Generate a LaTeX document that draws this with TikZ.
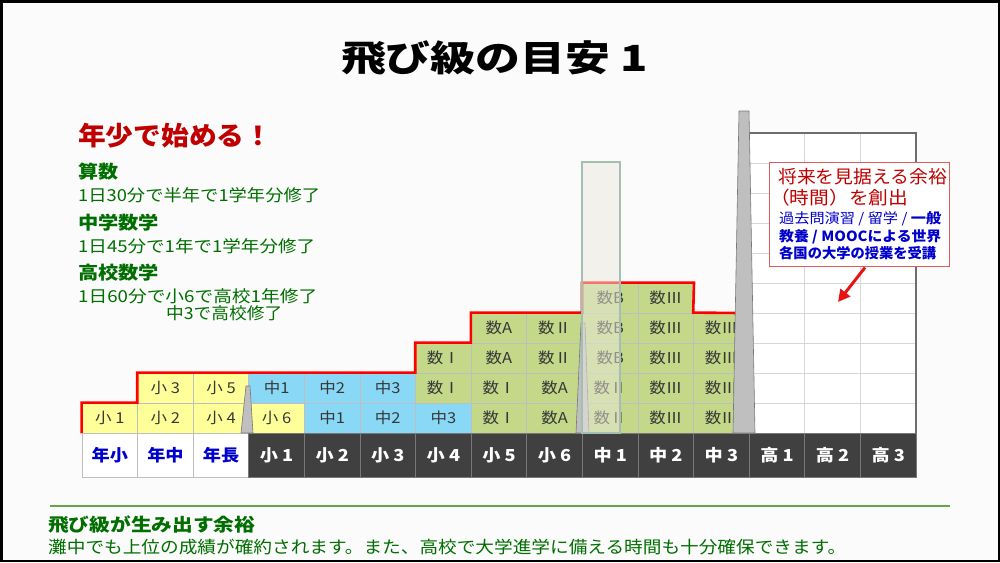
\documentclass[tikz,border=0pt]{standalone}
\usepackage{graphicx}
\usepackage{fontspec}
\setmainfont{Noto Sans CJK JP}
\usetikzlibrary{arrows.meta}
\definecolor{bgc}{RGB}{251,251,251}
\definecolor{cy}{RGB}{255,255,153}
\definecolor{cb}{RGB}{137,217,246}
\definecolor{cg}{RGB}{195,216,137}
\definecolor{cellborder}{RGB}{190,190,190}
\definecolor{celltext}{RGB}{55,55,55}
\definecolor{darkc}{RGB}{64,64,64}
\definecolor{darkline}{RGB}{120,120,120}
\definecolor{jblue}{RGB}{0,0,204}
\definecolor{jred}{RGB}{192,0,0}
\definecolor{jgreen}{RGB}{0,110,0}
\definecolor{sepgreen}{RGB}{100,165,80}
\definecolor{spikefill}{RGB}{191,191,191}
\definecolor{spikeline}{RGB}{120,120,120}
\definecolor{beige}{RGB}{236,233,222}
\definecolor{beigeline}{RGB}{165,190,178}
\definecolor{gridl}{RGB}{215,215,215}
\definecolor{gridb}{RGB}{110,110,110}
\definecolor{calloutline}{RGB}{225,90,90}
\definecolor{stair}{RGB}{255,0,0}
\definecolor{arrowred}{RGB}{230,20,20}
\newcommand\hs[1]{\scalebox{1.1}[1]{#1}}
\newcommand\fitw[2]{\resizebox{#1}{\height}{#2}}
\begin{document}
\begin{tikzpicture}[x=1pt,y=-1pt,
  cell/.style={draw=cellborder, line width=0.8pt, minimum width=55.6pt, minimum height=30pt, inner sep=0pt, text=celltext, font=\fontsize{15}{16}\selectfont},
  grade/.style={draw=darkline, fill=darkc, line width=0.8pt, minimum width=55.6pt, minimum height=44pt, inner sep=0pt, text=white, font=\fontsize{16.5}{18}\selectfont\bfseries},
  kgrade/.style={grade, draw=cellborder, fill=white, text=jblue},
  lbl/.style={inner sep=0pt, anchor=west},
  spike/.style={fill=spikefill, draw=spikeline, line width=0.6pt, line join=round},
  stairline/.style={draw=stair, line width=2.6pt, line join=miter},
  gridline/.style={draw=gridl, line width=1pt},
  gridborder/.style={draw=gridb, line width=1.2pt},
  pointer/.style={draw=arrowred, line width=3pt, -{Triangle[length=12pt,width=12pt]}},
]
\useasboundingbox (0,0) rectangle (1000,562);
\fill[bgc] (0,0) rectangle (1000,562);

% title
\node[inner sep=0pt] (title) at (494.5,58.5) {\fontsize{36}{40}\selectfont\bfseries\fitw{307pt}{飛び級の目安 1}};

% left texts
\node[lbl, text=jred] (slogan) at (78,135.5) {\fontsize{26}{28}\selectfont\bfseries\fitw{194pt}{年少で始める！}};
\node[lbl, text=jgreen] (h1) at (78,172) {\fontsize{18}{20}\selectfont\bfseries\fitw{40pt}{算数}};
\node[lbl, text=jgreen] (t1) at (78,195.5) {\fontsize{16.5}{18}\selectfont\fitw{242pt}{1日30分で半年で1学年分修了}};
\node[lbl, text=jgreen] (h2) at (78,222.5) {\fontsize{18}{20}\selectfont\bfseries\fitw{81pt}{中学数学}};
\node[lbl, text=jgreen] (t2) at (78,246) {\fontsize{16.5}{18}\selectfont\fitw{237pt}{1日45分で1年で1学年分修了}};
\node[lbl, text=jgreen] (h3) at (78,272.5) {\fontsize{18}{20}\selectfont\bfseries\fitw{81pt}{高校数学}};
\node[lbl, text=jgreen] (t3) at (78,296.5) {\fontsize{16.5}{18}\selectfont\fitw{239pt}{1日60分で小6で高校1年修了}};
\node[lbl, text=jgreen] (t4) at (166,313.5) {\fontsize{16.5}{18}\selectfont\fitw{116pt}{中3で高校修了}};

% grid for high school years
\fill[white] (748,133) rectangle (916,433);
\foreach \yy in {163,193,...,403} \draw[gridline] (748,\yy) -- (916,\yy);
\foreach \xx in {804,860} \draw[gridline] (\xx,133) -- (\xx,433);
\draw[gridborder] (748,133) -- (916,133) -- (916,433);

% cells
\foreach \cx/\rx/\fx/\sx in {0/1/cy/小 1, 1/1/cy/小 2, 1/2/cy/小 3, 2/1/cy/小 4, 2/2/cy/小 5,
  3/1/cy/小 6, 3/2/cb/中1, 4/1/cb/中1, 4/2/cb/中2, 5/1/cb/中2, 5/2/cb/中3,
  6/1/cb/中3, 6/2/cg/数Ⅰ, 6/3/cg/数Ⅰ,
  7/1/cg/数Ⅰ, 7/2/cg/数Ⅰ, 7/3/cg/数A, 7/4/cg/数A,
  8/1/cg/数A, 8/2/cg/数A, 8/3/cg/数Ⅱ, 8/4/cg/数Ⅱ,
  9/1/cg/数Ⅱ, 9/2/cg/数Ⅱ, 9/3/cg/数B, 9/4/cg/数B, 9/5/cg/数B,
  10/1/cg/数Ⅲ, 10/2/cg/数Ⅲ, 10/3/cg/数Ⅲ, 10/4/cg/数Ⅲ, 10/5/cg/数Ⅲ,
  11/1/cg/数Ⅲ, 11/2/cg/数Ⅲ, 11/3/cg/数Ⅲ, 11/4/cg/数Ⅲ}
  \node[cell, fill=\fx] (c\cx-\rx) at ({82+(\cx+0.5)*55.6},{433-(\rx-0.5)*30}) {\hs{\sx}};

% red staircase
\draw[stairline] (c0-1.south west) -- (c0-1.north west) -- (c1-1.north west) -- (c1-2.north west)
  -- (c6-2.north west) -- (c6-3.north west) -- (c7-3.north west) -- (c7-4.north west)
  -- (c9-4.north west) -- (c9-5.north west) -- (c10-5.north east) -- (c11-4.north west) -- (740,313);

% grade row
\foreach \cx/\sx in {0/年小, 1/年中, 2/年長}
  \node[kgrade] (g\cx) at ({82+(\cx+0.5)*55.6},455) {\hs{\sx}};
\foreach \cx/\sx in {3/小 1, 4/小 2, 5/小 3, 6/小 4, 7/小 5, 8/小 6, 9/中 1, 10/中 2, 11/中 3, 12/高 1, 13/高 2, 14/高 3}
  \node[grade] (g\cx) at ({82+(\cx+0.5)*55.6},455) {\hs{\sx}};

% spikes
\draw[spike] (241,433) -- (246,386) -- (250,386) -- (253,433) -- cycle;
\draw[spike] (576,433) -- (581,323) -- (585,323) -- (589,433) -- cycle;

% beige bar
\node[draw=beigeline, line width=1.5pt, fill=beige, fill opacity=0.5, minimum width=38pt, minimum height=271pt, inner sep=0pt] (bar) at (601,297.5) {};

\draw[spike] (733,433) -- (739,111) -- (749,111) -- (755,433) -- cycle;

% callout
\node[draw=calloutline, line width=1pt, fill=white, minimum width=180pt, minimum height=104pt, inner sep=0pt] (callout) at (859,214) {};
\node[lbl, text=jred] (k1) at (778,176.5) {\fontsize{18}{20}\selectfont\fitw{169pt}{将来を見据える余裕}};
\node[lbl, text=jred] (k2) at (770,197.5) {\fontsize{18}{20}\selectfont\fitw{138pt}{（時間）を創出}};
\node[lbl, text=jblue] (k3) at (779,219) {\fontsize{14}{16}\selectfont\fitw{162pt}{過去問演習 / 留学 / \textbf{一般}}};
\node[lbl, text=jblue] (k4) at (779,237) {\fontsize{14}{16}\selectfont\bfseries\fitw{162pt}{教養 / MOOCによる世界}};
\node[lbl, text=jblue] (k5) at (779,253) {\fontsize{14}{16}\selectfont\bfseries\fitw{157pt}{各国の大学の授業を受講}};
\coordinate (tip) at (838,302);
\draw[pointer] ([xshift=6pt,yshift=-1pt]callout.south) -- (tip);

% bottom
\draw[draw=sepgreen, line width=2pt] (50,506) -- (950,506);
\node[lbl, text=jgreen] (b1) at (48,524.5) {\fontsize{18}{20}\selectfont\bfseries\fitw{207pt}{飛び級が生み出す余裕}};
\node[lbl, text=jgreen] (b2) at (48,547) {\fontsize{17}{19}\selectfont\fitw{798pt}{灘中でも上位の成績が確約されます。また、高校で大学進学に備える時間も十分確保できます。}};

% frame
\draw[black, line width=2.5pt] (1.25,1.25) rectangle (998.75,560.75);
\end{tikzpicture}
\end{document}
